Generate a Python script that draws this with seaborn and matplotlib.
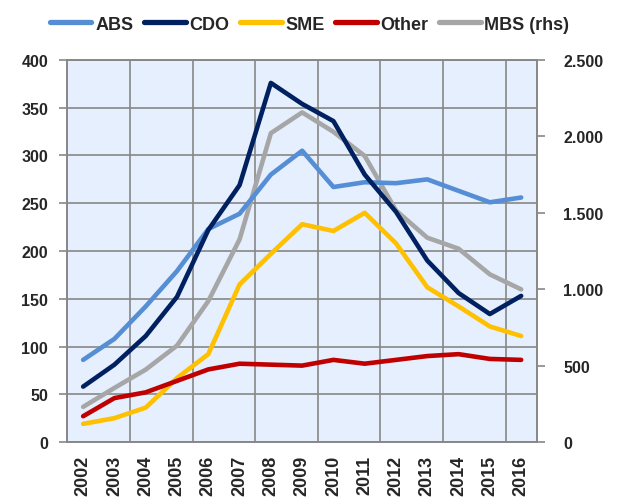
import matplotlib
matplotlib.use("Agg")
import matplotlib.pyplot as plt
import seaborn as sns
import pandas as pd
import numpy as np
from matplotlib.ticker import FixedLocator, FuncFormatter
from matplotlib.lines import Line2D

years = [2002, 2003, 2004, 2005, 2006, 2007, 2008, 2009, 2010, 2011, 2012, 2013, 2014, 2015, 2016]
abs_vals = [86, 108, 142, 179, 223, 239, 280, 305, 267, 272, 271, 275, 263, 251, 256]
cdo_vals = [58, 81, 111, 152, 222, 269, 376, 354, 336, 280, 241, 190, 156, 134, 153]
sme_vals = [19, 25, 36, 67, 92, 165, 197, 228, 221, 240, 208, 162, 142, 121, 111]
other_vals = [27, 46, 52, 64, 76, 82, 81, 80, 86, 82, 86, 90, 92, 87, 86]
mbs_vals = [230, 354, 474, 631, 922, 1326, 2021, 2157, 2030, 1872, 1515, 1337, 1265, 1097, 999]

series_names = ["ABS", "CDO", "SME", "Other"]
mbs_name = "MBS (rhs)"
colors = {"ABS": "#558ED5", "CDO": "#002060", "SME": "#FFC000", "Other": "#C00000", mbs_name: "#A6A6A6"}

sns.set_style("white")
plt.rcParams["font.family"] = ["Liberation Sans", "DejaVu Sans"]
plt.rcParams["font.weight"] = "bold"

pos = list(range(len(years)))
left_df = pd.DataFrame({
    "pos": pos * 4,
    "value": abs_vals + cdo_vals + sme_vals + other_vals,
    "series": sum([[n] * len(years) for n in series_names], []),
})
mbs_df = pd.DataFrame({"pos": pos, "value": mbs_vals})

fig = plt.figure(figsize=(6.17, 5.02), dpi=100)
ax = fig.add_axes([0.1094, 0.1175, 0.7606, 0.761])
ax2 = ax.twinx()

lw = 3.3
grid_c = "#878787"
bg = "#E5EFFD"

sns.lineplot(data=left_df, x="pos", y="value", hue="series", palette=colors,
             hue_order=series_names, sort=False, lw=lw, ax=ax, legend=False, zorder=3)
sns.lineplot(data=mbs_df, x="pos", y="value", color=colors[mbs_name], sort=False,
             lw=lw, ax=ax2, legend=False)

# left-axis series drawn above; background & grid on the lower (twin) axes
ax.set_zorder(ax2.get_zorder() + 1)
ax.patch.set_visible(False)
ax2.patch.set_visible(True)
ax2.set_facecolor(bg)

ax.set_xlim(-0.5, len(years) - 0.5)
ax.set_ylim(0, 400)
ax2.set_ylim(0, 2500)

ax.yaxis.set_major_locator(FixedLocator(np.arange(0, 401, 50)))
ax2.yaxis.set_major_locator(FixedLocator(np.arange(0, 2501, 500)))
ax2.yaxis.set_major_formatter(FuncFormatter(lambda v, p: f"{v:,.0f}".replace(",", ".")))

ax.xaxis.set_major_locator(FixedLocator(np.arange(-0.5, len(years), 2)))
ax.xaxis.set_minor_locator(FixedLocator(pos))
ax.set_xticklabels([])
ax.set_xticklabels([str(y) for y in years], minor=True, rotation=90)
ax.tick_params(axis="x", which="minor", length=0, pad=9, labelsize=13)
ax.tick_params(axis="x", which="major", length=6, width=1.2, color=grid_c, direction="out")

ax.grid(False)
ax2.grid(False)
for yv in np.arange(50, 401, 50):
    ax2.axhline(yv * 2500 / 400, color=grid_c, lw=1.2, zorder=0)
for xv in np.arange(1.5, len(years), 2):
    ax2.axvline(xv, color=grid_c, lw=1.2, zorder=0)

ax.tick_params(axis="y", length=6, width=1.2, color=grid_c, direction="out", labelsize=11.5, pad=8)
ax2.tick_params(axis="y", length=6, width=1.2, color=grid_c, direction="out", labelsize=11.5, pad=13)

for a in (ax, ax2):
    for s in a.spines.values():
        s.set_color(grid_c)
        s.set_linewidth(1.2)
    a.set_xlabel("")
    a.set_ylabel("")
for lab in ax.get_yticklabels() + ax2.get_yticklabels() + ax.get_xticklabels(minor=True):
    lab.set_fontweight("bold")

handles = [Line2D([0], [0], color=colors[n], lw=3.8, solid_capstyle="round") for n in series_names + [mbs_name]]
fig.legend(handles, series_names + [mbs_name], loc="center", bbox_to_anchor=(0.502, 0.95), ncol=5,
           frameon=False, handlelength=2.3, handletextpad=0.2, columnspacing=0.6,
           prop={"weight": "bold", "size": 13})

fig.savefig("out.png", dpi=100)
